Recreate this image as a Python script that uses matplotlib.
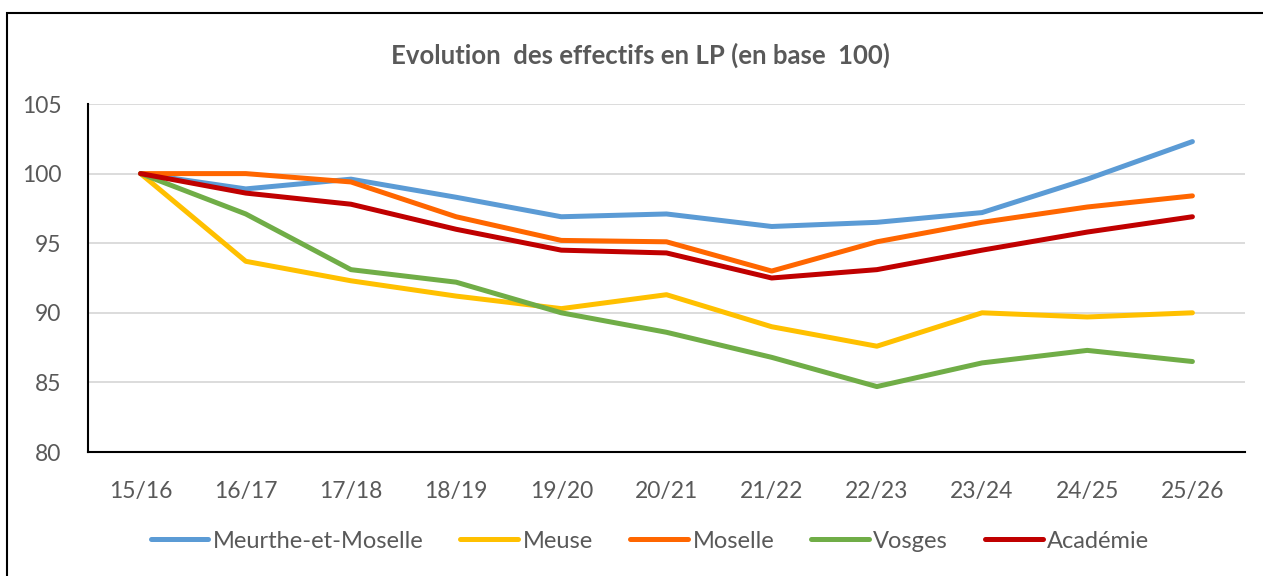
import matplotlib.pyplot as plt
from matplotlib.patches import Rectangle

plt.rcParams['font.family'] = ['Lato', 'DejaVu Sans']

# Chart data (base 100 in 15/16)
years = ["15/16", "16/17", "17/18", "18/19", "19/20", "20/21",
         "21/22", "22/23", "23/24", "24/25", "25/26"]
meurthe = [100, 98.9, 99.6, 98.3, 96.9, 97.1, 96.2, 96.5, 97.2, 99.6, 102.3]
meuse = [100, 93.7, 92.3, 91.2, 90.3, 91.3, 89.0, 87.6, 90.0, 89.7, 90.0]
moselle = [100, 100.0, 99.4, 96.9, 95.2, 95.1, 93.0, 95.1, 96.5, 97.6, 98.4]
vosges = [100, 97.1, 93.1, 92.2, 90.0, 88.6, 86.8, 84.7, 86.4, 87.3, 86.5]
academie = [100, 98.6, 97.8, 96.0, 94.5, 94.3, 92.5, 93.1, 94.5, 95.8, 96.9]

series = [
    ("Meurthe-et-Moselle", meurthe, "#5B9BD5"),
    ("Meuse", meuse, "#FFC000"),
    ("Moselle", moselle, "#FF6600"),
    ("Vosges", vosges, "#70AD47"),
    ("Académie", academie, "#C00000"),
]

TEXT = "#595959"
W, H = 1263, 576

fig = plt.figure(figsize=(W / 100, H / 100), dpi=100)
ax = fig.add_axes([88 / W, 1 - 452 / H, (1245 - 88) / W, (452 - 104) / H])

x = list(range(len(years)))
for name, vals, col in series:
    ax.plot(x, vals, color=col, lw=3.6, label=name,
            solid_capstyle="round", solid_joinstyle="round")

ax.set_xlim(-0.5, len(years) - 0.5)
ax.set_ylim(80, 105)
ax.set_yticks([80, 85, 90, 95, 100, 105])
ax.set_xticks(x)
ax.set_xticklabels(years)
ax.grid(axis="y", color="#D9D9D9", lw=1.3)
ax.set_axisbelow(True)
for s in ["top", "right"]:
    ax.spines[s].set_visible(False)
ax.spines["left"].set_color("black")
ax.spines["bottom"].set_color("black")
ax.spines["left"].set_linewidth(1.5)
ax.spines["bottom"].set_linewidth(1.5)
ax.tick_params(length=0, labelsize=16.5, colors=TEXT)
ax.tick_params(axis="y", pad=19)
ax.tick_params(axis="x", pad=21)

fig.text(640 / W, 1 - 55 / H, "Evolution  des effectifs en LP (en base  100)",
         ha="center", va="center", fontsize=18.5, fontweight="bold", color=TEXT)

leg = fig.legend(loc="center", bbox_to_anchor=(650 / W, 1 - 541 / H), ncol=5,
                 frameon=False, fontsize=17, handlelength=2.45,
                 columnspacing=1.55, handletextpad=0.2)
for t in leg.get_texts():
    t.set_color(TEXT)

# outer chart frame (cut off at right and bottom in the reference)
fig.patches.append(Rectangle((7 / W, -0.2), 1.2, 1.2 - 12.5 / H,
                             transform=fig.transFigure, fill=False,
                             edgecolor="black", lw=1.5))

fig.savefig("out.png", dpi=100)
